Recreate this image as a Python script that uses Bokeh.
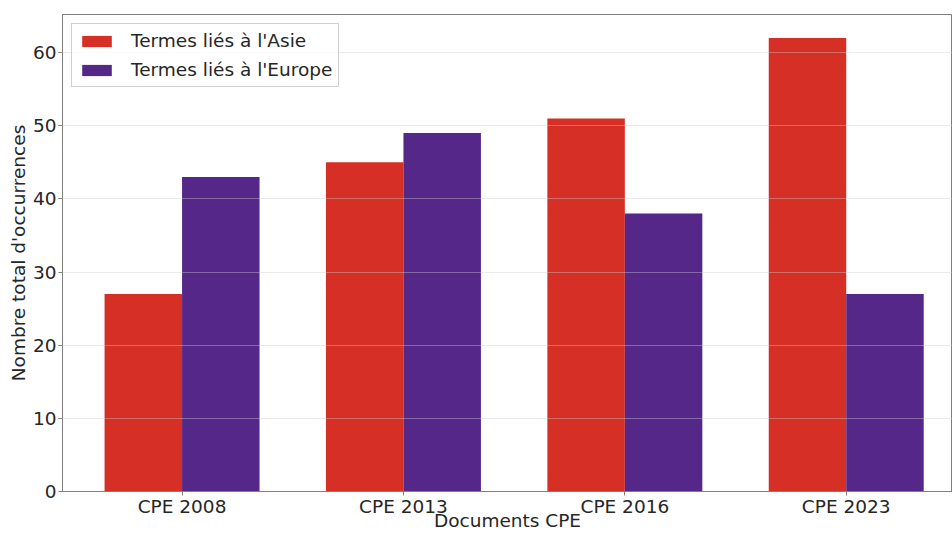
from bokeh.plotting import figure
from bokeh.models import ColumnDataSource, FixedTicker, Range1d, Legend, LegendItem
from bokeh.transform import dodge
from bokeh.embed import file_html
from bokeh.resources import INLINE

categories = ["CPE 2008", "CPE 2013", "CPE 2016", "CPE 2023"]
asie = [27, 45, 51, 62]
europe = [43, 49, 38, 27]
y_ticks = [0, 10, 20, 30, 40, 50, 60]

idx = list(range(len(categories)))
src = ColumnDataSource(dict(x=idx, asie=asie, europe=europe))

FONT = "DejaVu Sans"
TXT = "#262626"
FS = "18.5px"

p = figure(width=952, height=533, output_backend="svg", toolbar_location=None,
           x_range=Range1d(-0.54, 3.48), y_range=Range1d(0, 65.2),
           min_border_left=62, min_border_right=0, min_border_top=14, min_border_bottom=41)

r1 = p.vbar(x=dodge("x", -0.175), top="asie", width=0.35, source=src,
            fill_color="#D62F26", line_color=None)
r2 = p.vbar(x=dodge("x", 0.175), top="europe", width=0.35, source=src,
            fill_color="#542788", line_color=None)

p.xaxis.ticker = FixedTicker(ticks=idx)
p.xaxis.major_label_overrides = {i: c for i, c in zip(idx, categories)}
p.yaxis.ticker = FixedTicker(ticks=y_ticks)
p.xaxis.axis_label = "Documents CPE"
p.yaxis.axis_label = "Nombre total d'occurrences"

for ax in (p.xaxis[0], p.yaxis[0]):
    ax.axis_label_text_font = FONT
    ax.axis_label_text_font_size = FS
    ax.axis_label_text_font_style = "normal"
    ax.axis_label_text_color = TXT
    ax.major_label_text_font = FONT
    ax.major_label_text_font_size = FS
    ax.major_label_text_color = TXT
    ax.axis_line_color = "#7f7f7f"
    ax.major_tick_line_color = "#7f7f7f"
    ax.major_tick_out = 4
    ax.major_tick_in = 0
    ax.minor_tick_line_color = None
p.xaxis.major_label_standoff = 0
p.xaxis.axis_label_standoff = -10
p.yaxis.major_label_standoff = 2
p.yaxis.axis_label_standoff = 1

p.xgrid.grid_line_color = None
p.ygrid.grid_line_color = "#cccccc"
p.ygrid.grid_line_alpha = 0.4
p.ygrid.level = "overlay"
p.outline_line_color = "#7f7f7f"
p.outline_line_width = 1

legend = Legend(items=[LegendItem(label="Termes liés à l'Asie", renderers=[r1]),
                       LegendItem(label="Termes liés à l'Europe", renderers=[r2])],
                location="top_left")
legend.label_text_font = FONT
legend.label_text_font_size = FS
legend.label_text_color = TXT
legend.glyph_width = 37
legend.glyph_height = 14
legend.label_standoff = 16
legend.spacing = 8
legend.padding = 6
legend.margin = 9
legend.border_line_color = "#d0d0d0"
legend.border_line_alpha = 1
legend.background_fill_alpha = 0.8
p.add_layout(legend)

open("out.html", "w").write(file_html(p, INLINE))
